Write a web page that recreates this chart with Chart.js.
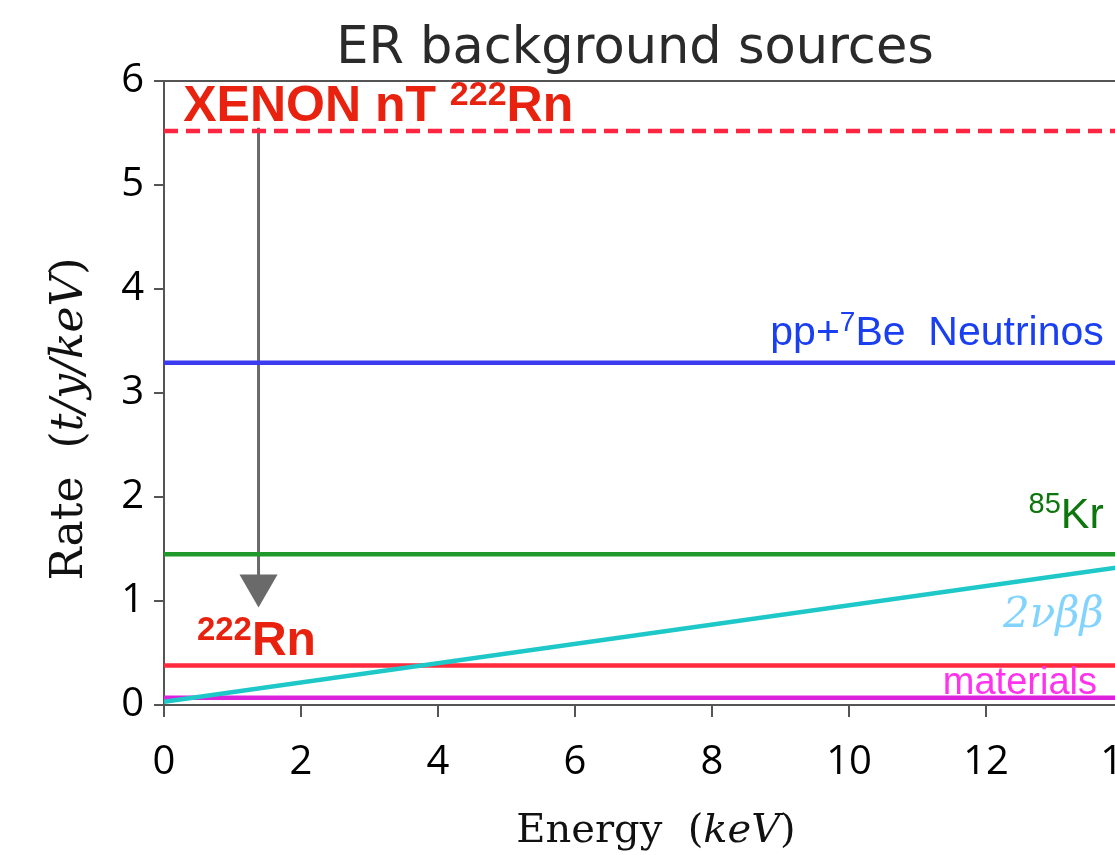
<!DOCTYPE html>
<html>
<head>
<meta charset="utf-8">
<script src="https://cdn.jsdelivr.net/npm/chart.js@4.4.1/dist/chart.umd.min.js"></script>
<style>
  html, body { margin: 0; padding: 0; background: #fff; overflow: hidden; }
  #wrap { width: 1180px; height: 855px; }
</style>
</head>
<body>
<div id="wrap"><canvas id="erChart" width="1180" height="855"></canvas></div>
<script>
// energy range (keV) and rates (t/y/keV)
const energy = [0, 14];
const xenonRn = [5.52, 5.52];
const neutrinos = [3.29, 3.29];
const kr85 = [1.45, 1.45];
const doubleBeta = [0.03, 1.33];
const rn222 = [0.38, 0.38];
const materials = [0.07, 0.07];

// arrow from XENONnT Rn level down to target Rn level
const arrowX = [1.38, 1.38];
const arrowY = [5.55, 1.15];

const xTicks = [0, 2, 4, 6, 8, 10, 12, 14];
const yTicks = [0, 1, 2, 3, 4, 5, 6];

function pts(xs, ys) {
    return xs.map((x, i) => ({ x: x, y: ys[i] }));
}

function lineSet(label, ys, color, dash) {
    return {
        label: label,
        data: pts(energy, ys),
        borderColor: color,
        borderWidth: 4.5,
        borderDash: dash || [],
        pointRadius: 0,
        showLine: true,
        fill: false
    };
}

// text labels: [x, y] in data units, drawn in pieces so superscripts work
const labels = [
    { at: [0.28, 5.62], align: 'left', color: '#e8220f', parts: [
        ['XENON nT ', 'bold 50px "Liberation Sans"', 0],
        ['222', 'bold 34px "Liberation Sans"', -16],
        ['Rn', 'bold 50px "Liberation Sans"', 0]] },
    { at: [0.48, 0.48], align: 'left', color: '#e8220f', parts: [
        ['222', 'bold 33px "Liberation Sans"', -15],
        ['Rn', 'bold 48px "Liberation Sans"', 0]] },
    { at: [13.72, 3.46], align: 'right', color: '#1a3ff0', parts: [
        ['pp+', '41px "Liberation Sans"', 0],
        ['7', '28px "Liberation Sans"', -14],
        ['Be  Neutrinos', '41px "Liberation Sans"', 0]] },
    { at: [13.72, 1.7], align: 'right', color: '#0d760d', parts: [
        ['85', '29px "Liberation Sans"', -15],
        ['Kr', '43px "Liberation Sans"', 0]] },
    { at: [13.72, 0.75], align: 'right', color: '#82d4ff', parts: [
        ['2\u03bd\u03b2\u03b2', 'italic 42px "DejaVu Serif"', 0]] },
    { at: [13.62, 0.11], align: 'right', color: '#ff33ee', parts: [
        ['materials', '38px "Liberation Sans"', 0]] }
];

function drawParts(ctx, parts, x, y, align) {
    let w = 0;
    parts.forEach(p => { ctx.font = p[1]; w += ctx.measureText(p[0]).width; });
    let cx = align === 'right' ? x - w : (align === 'center' ? x - w / 2 : x);
    parts.forEach(p => {
        ctx.font = p[1];
        ctx.fillText(p[0], cx, y + p[2]);
        cx += ctx.measureText(p[0]).width;
    });
}

const textPlugin = {
    id: 'textPlugin',
    afterDraw(chart) {
        const ctx = chart.ctx;
        const a = chart.chartArea;
        const xs = chart.scales.x, ys = chart.scales.y;
        ctx.save();

        // top frame line
        ctx.strokeStyle = '#555';
        ctx.lineWidth = 2;
        ctx.beginPath();
        ctx.moveTo(a.left, a.top);
        ctx.lineTo(a.right, a.top);
        ctx.stroke();

        ctx.textBaseline = 'alphabetic';
        ctx.textAlign = 'left';
        labels.forEach(l => {
            ctx.fillStyle = l.color;
            drawParts(ctx, l.parts, xs.getPixelForValue(l.at[0]), ys.getPixelForValue(l.at[1]), l.align);
        });

        // title
        ctx.fillStyle = '#2a2a2a';
        drawParts(ctx, [['ER background sources', '51px "DejaVu Sans"', 0]], 635, 63, 'center');

        // x axis title
        ctx.fillStyle = '#111';
        drawParts(ctx, [
            ['Energy  (', '40px "DejaVu Serif"', 0],
            ['keV', 'italic 40px "DejaVu Serif"', 0],
            [')', '40px "DejaVu Serif"', 0]], 656, 842, 'center');

        // y axis title
        ctx.translate(82, 419);
        ctx.rotate(-Math.PI / 2);
        drawParts(ctx, [
            ['Rate  (', '44px "DejaVu Serif"', 0],
            ['t/y/keV', 'italic 44px "DejaVu Serif"', 0],
            [')', '44px "DejaVu Serif"', 0]], 0, 0, 'center');
        ctx.restore();
    }
};

const ctx1 = document.getElementById('erChart');

new Chart(ctx1, {
    type: 'scatter',
    data: {
        datasets: [
            lineSet('XENONnT 222Rn', xenonRn, '#ff2540', [14, 8]),
            lineSet('pp+7Be Neutrinos', neutrinos, '#3b3bef'),
            lineSet('85Kr', kr85, '#1f9a2a'),
            lineSet('2vbb', doubleBeta, '#1ec8c8'),
            lineSet('222Rn', rn222, '#ff2a3c'),
            lineSet('materials', materials, '#dd22dd'),
            {
                label: 'arrow',
                data: pts(arrowX, arrowY),
                showLine: true,
                borderColor: '#6a6a6a',
                backgroundColor: '#6a6a6a',
                borderWidth: 3,
                pointStyle: 'triangle',
                rotation: 180,
                pointRadius: [0, 22],
                pointBorderWidth: 0
            }
        ]
    },
    options: {
        responsive: false,
        animation: false,
        layout: { padding: { top: 81, right: 57, left: 0, bottom: 0 } },
        plugins: {
            legend: { display: false },
            tooltip: { enabled: false }
        },
        scales: {
            x: {
                type: 'linear',
                min: 0,
                max: 14,
                afterFit(s) { s.height = 150; },
                afterBuildTicks(s) { s.ticks = xTicks.map(v => ({ value: v })); },
                border: { color: '#555', width: 2 },
                grid: { drawOnChartArea: false, tickLength: 12, color: '#555', lineWidth: 2 },
                ticks: { color: '#000', padding: 22, font: { family: '"Open Sans"', size: 40 } }
            },
            y: {
                min: 0,
                max: 6,
                afterFit(s) { s.width = 164; },
                afterBuildTicks(s) { s.ticks = yTicks.map(v => ({ value: v })); },
                border: { color: '#555', width: 2 },
                grid: { drawOnChartArea: false, tickLength: 10, color: '#555', lineWidth: 2 },
                ticks: { color: '#000', padding: 10, font: { family: '"Open Sans"', size: 40 } }
            }
        }
    },
    plugins: [textPlugin]
});
</script>
</body>
</html>
